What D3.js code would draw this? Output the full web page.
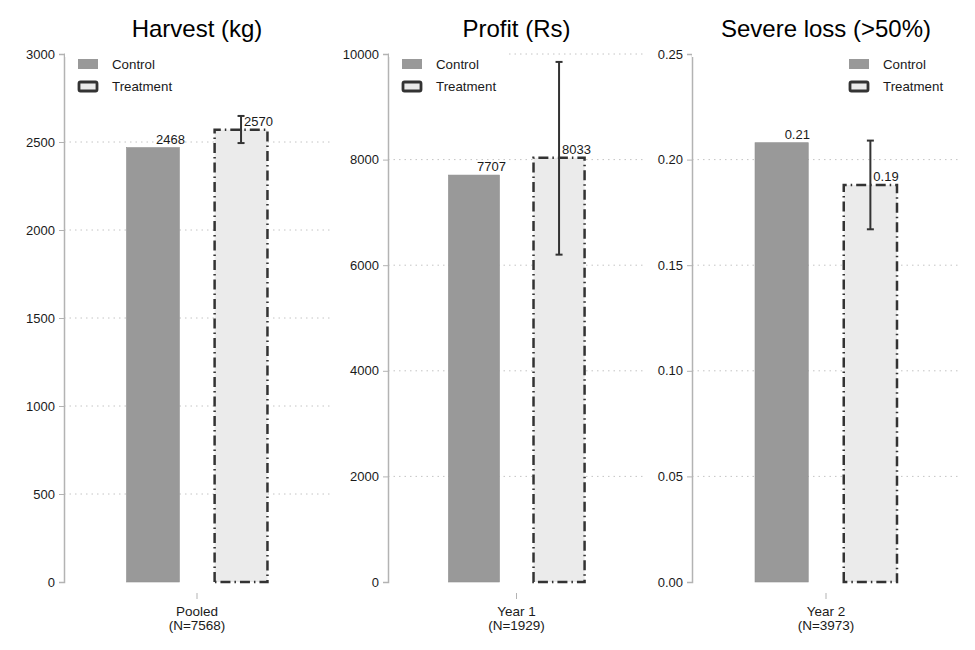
<!DOCTYPE html>
<html>
<head>
<meta charset="utf-8">
<script src="https://cdn.jsdelivr.net/npm/d3@7"></script>
<style>
  html, body { margin: 0; padding: 0; background: #fff; }
  svg { display: block; font-family: "Liberation Sans", Arial, sans-serif; }
</style>
</head>
<body>
<svg id="chart" width="975" height="650"></svg>
<script>
// ---- Data ----
const panelTitles = ["Harvest (kg)", "Profit (Rs)", "Severe loss (>50%)"];
const groupNames = ["Pooled", "Year 1", "Year 2"];
const groupN = ["(N=7568)", "(N=1929)", "(N=3973)"];
const seriesNames = ["Control", "Treatment"];
const controlValues = [2468, 7707, 0.208];
const treatmentValues = [2570, 8033, 0.188];
const treatmentLow = [2494, 6200, 0.167];
const treatmentHigh = [2648, 9850, 0.209];
const yMax = [3000, 10000, 0.25];
const yTicks = [
  [0, 500, 1000, 1500, 2000, 2500, 3000],
  [0, 2000, 4000, 6000, 8000, 10000],
  [0, 0.05, 0.10, 0.15, 0.20, 0.25]
];
const tickFormats = ["d", "d", ".2f"];
const valueFormats = ["d", "d", ".2f"];

// ---- Layout / style ----
const plotLeft = [64, 388, 692];
const plotRight = [330, 645, 960];
const yTop = 54, yBottom = 582;
const legendSide = ["left", "left", "right"];
const legendCover = [266, 117, 268];
const controlFill = "#999999";
const treatFill = "#ebebeb";
const dark = "#333333";
const axisGray = "#b3b3b3";

const svg = d3.select("#chart");

panelTitles.forEach((title, i) => {
  const g = svg.append("g");
  const L = plotLeft[i], R = plotRight[i];
  const cx = (L + R) / 2;

  const y = d3.scaleLinear().domain([0, yMax[i]]).range([yBottom, yTop]);
  const x = d3.scaleBand().domain(seriesNames).range([L, R])
    .paddingInner(0.4).paddingOuter(0.71);

  // title
  g.append("text").attr("x", cx).attr("y", 37)
    .attr("text-anchor", "middle").attr("font-size", 24).attr("fill", "#000")
    .text(title);

  // gridlines (none at the zero baseline)
  g.append("g").selectAll("line").data(yTicks[i].filter(d => d > 0)).join("line")
    .attr("x1", L).attr("x2", R)
    .attr("y1", d => y(d)).attr("y2", d => y(d))
    .attr("stroke", "#c4c4c4").attr("stroke-width", 1)
    .attr("stroke-dasharray", "1.5,4");

  // y axis
  const axis = d3.axisLeft(y).tickValues(yTicks[i])
    .tickFormat(d3.format(tickFormats[i])).tickSize(5).tickPadding(4);
  const ag = g.append("g").attr("transform", `translate(${L},0)`).call(axis);
  ag.attr("font-size", 13).attr("font-family", "Liberation Sans, Arial, sans-serif");
  ag.select(".domain").attr("stroke", axisGray).attr("stroke-width", 1.5);
  ag.selectAll(".tick line").attr("stroke", axisGray).attr("stroke-width", 1);
  ag.selectAll(".tick text").attr("font-size", 13).attr("fill", "#1a1a1a");

  // x tick and labels
  g.append("line").attr("x1", cx).attr("x2", cx).attr("y1", 593).attr("y2", 599)
    .attr("stroke", axisGray).attr("stroke-width", 1);
  g.append("text").attr("x", cx).attr("y", 616).attr("text-anchor", "middle")
    .attr("font-size", 13.5).attr("fill", "#1a1a1a").text(groupNames[i]);
  g.append("text").attr("x", cx).attr("y", 630).attr("text-anchor", "middle")
    .attr("font-size", 13.5).attr("fill", "#1a1a1a").text(groupN[i]);

  // legend background (covers grid)
  const lg = g.append("g");
  const coverX = legendSide[i] === "left" ? L + 1 : R - legendCover[i];
  lg.append("rect").attr("x", coverX).attr("y", yTop - 3)
    .attr("width", legendCover[i] - 1).attr("height", 6).attr("fill", "#fff");
  const lx = legendSide[i] === "left" ? L + 14 : R - 111;
  lg.append("rect").attr("x", lx).attr("y", 59).attr("width", 20).attr("height", 10)
    .attr("fill", controlFill);
  lg.append("rect").attr("x", lx + 1).attr("y", 82).attr("width", 18).attr("height", 9)
    .attr("rx", 1.5)
    .attr("fill", treatFill).attr("stroke", dark).attr("stroke-width", 2.8);
  lg.append("text").attr("x", lx + 34).attr("y", 69).attr("font-size", 13.3)
    .attr("fill", "#1a1a1a").text(seriesNames[0]);
  lg.append("text").attr("x", lx + 34).attr("y", 91).attr("font-size", 13.3)
    .attr("fill", "#1a1a1a").text(seriesNames[1]);

  // control bar
  g.append("rect")
    .attr("x", x("Control")).attr("width", x.bandwidth())
    .attr("y", y(controlValues[i])).attr("height", y(0) - y(controlValues[i]))
    .attr("fill", controlFill).attr("stroke", "#8f8f8f").attr("stroke-width", 0.6);

  // treatment bar
  g.append("rect")
    .attr("x", x("Treatment")).attr("width", x.bandwidth())
    .attr("y", y(treatmentValues[i])).attr("height", y(0) - y(treatmentValues[i]))
    .attr("fill", treatFill);
  const tx0 = x("Treatment"), tx1 = x("Treatment") + x.bandwidth();
  const ty = y(treatmentValues[i]), yb = y(0);
  g.append("path")
    .attr("d", `M${tx0},${yb}L${tx0},${ty}L${tx1},${ty}L${tx1},${yb}Z`)
    .attr("fill", "none").attr("stroke", dark).attr("stroke-width", 2.5)
    .attr("stroke-dasharray", "10,4,1.5,4");

  // value labels
  const fmt = d3.format(valueFormats[i]);
  g.append("text").attr("x", x("Control") + x.bandwidth() / 2 + 3)
    .attr("y", y(controlValues[i]) - 4).attr("font-size", 13).attr("fill", "#1a1a1a")
    .text(fmt(controlValues[i]));
  g.append("text").attr("x", x("Treatment") + x.bandwidth() / 2 + 3)
    .attr("y", y(treatmentValues[i]) - 4).attr("font-size", 13).attr("fill", "#1a1a1a")
    .text(fmt(treatmentValues[i]));

  // error bar
  const ex = x("Treatment") + x.bandwidth() / 2;
  const eg = g.append("g").attr("stroke", dark).attr("stroke-width", 2);
  eg.append("line").attr("x1", ex).attr("x2", ex)
    .attr("y1", y(treatmentLow[i])).attr("y2", y(treatmentHigh[i]));
  eg.append("line").attr("x1", ex - 3.5).attr("x2", ex + 3.5)
    .attr("y1", y(treatmentLow[i])).attr("y2", y(treatmentLow[i]));
  eg.append("line").attr("x1", ex - 3.5).attr("x2", ex + 3.5)
    .attr("y1", y(treatmentHigh[i])).attr("y2", y(treatmentHigh[i]));
});
</script>
</body>
</html>
